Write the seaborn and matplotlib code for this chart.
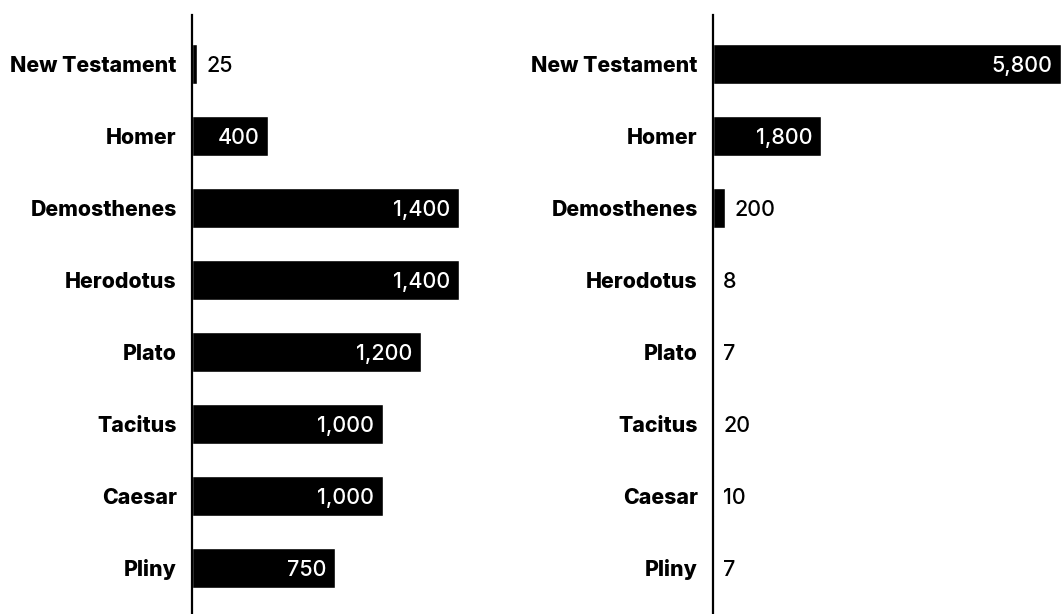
import matplotlib
matplotlib.use("Agg")
import matplotlib.pyplot as plt
import seaborn as sns
import pandas as pd

# data
authors = ["New Testament", "Homer", "Demosthenes", "Herodotus",
           "Plato", "Tacitus", "Caesar", "Pliny"]
left_values = [25, 400, 1400, 1400, 1200, 1000, 1000, 750]
right_values = [5800, 1800, 200, 8, 7, 20, 10, 7]

sns.set_theme(style="white")
plt.rcParams['font.family'] = ['Inter', 'DejaVu Sans']

W, H = 1061, 614
fig = plt.figure(figsize=(W / 100, H / 100), dpi=100)

# axes placed in pixel terms
ax1 = fig.add_axes([192 / W, 0, 300 / W, 599 / H])
ax2 = fig.add_axes([713 / W, 0, 348 / W, 599 / H])


def draw(ax, values, xmax):
    df = pd.DataFrame({"Author": authors, "Count": values})
    sns.barplot(data=df, x="Count", y="Author", orient="h", color="black",
                saturation=1, width=0.55, ax=ax)
    ax.set_xlim(0, xmax)
    ax.set_ylim(7.64, -0.68)
    ax.set_xlabel("")
    ax.set_ylabel("")
    ax.set_xticks([])
    for s in ["top", "right", "bottom"]:
        ax.spines[s].set_visible(False)
    ax.spines["left"].set_color("black")
    ax.spines["left"].set_linewidth(1.6)
    ax.tick_params(axis="y", length=0, pad=11)
    for lab in ax.get_yticklabels():
        lab.set_fontsize(15.3)
        lab.set_fontweight("heavy")
        lab.set_color("black")
    for i, v in enumerate(values):
        txt = f"{v:,}"
        if v / xmax > 0.15:
            ax.annotate(txt, (v, i), xytext=(-6, 0), textcoords="offset points",
                        ha="right", va="center_baseline", color="white",
                        fontsize=15.5, fontweight="medium", clip_on=False)
        else:
            ax.annotate(txt, (v, i), xytext=(7, 0), textcoords="offset points",
                        ha="left", va="center_baseline", color="black",
                        fontsize=15.5, fontweight="medium", clip_on=False)


draw(ax1, left_values, 1400 * 300 / 267)
draw(ax2, right_values, 5800)

fig.savefig("out.png", dpi=100, facecolor="white")
